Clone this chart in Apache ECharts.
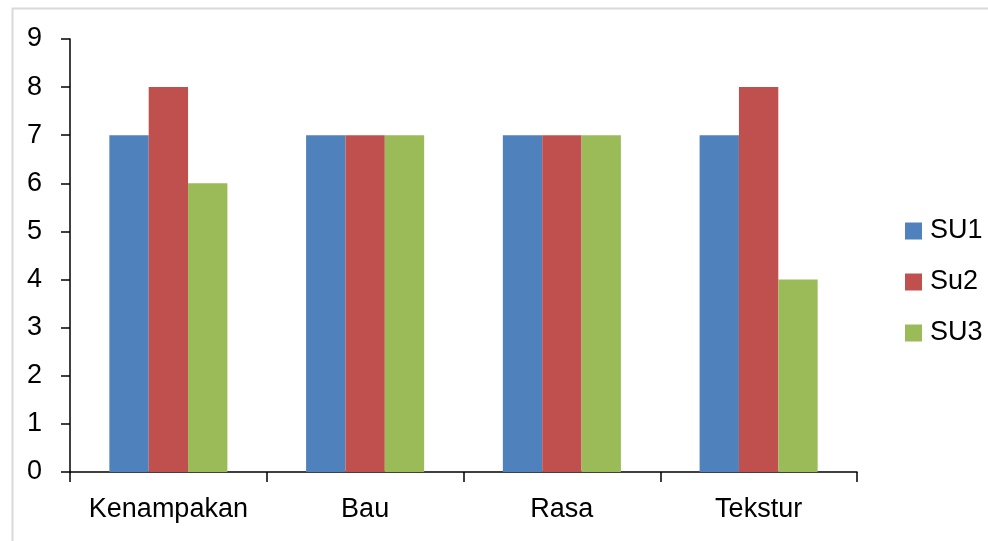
<!DOCTYPE html>
<html>
<head>
<meta charset="utf-8">
<script src="https://cdn.jsdelivr.net/npm/echarts@6/dist/echarts.min.js"></script>
<style>
  html, body { margin: 0; padding: 0; background: #fff; }
  #chart { width: 988px; height: 541px; }
</style>
</head>
<body>
<div id="chart"></div>
<script>
// Sensory scores per attribute
const categories = ['Kenampakan', 'Bau', 'Rasa', 'Tekstur'];
const seriesNames = ['SU1', 'Su2', 'SU3'];
const su1 = [7, 7, 7, 7];
const su2 = [8, 7, 7, 8];
const su3 = [6, 7, 7, 4];
const yTicks = { min: 0, max: 9, interval: 1 };

const colors = ['#4F81BD', '#C0504D', '#9BBB59'];
const FONT = '"Liberation Sans", Arial, sans-serif';

const chart = echarts.init(document.getElementById('chart'), null, { renderer: 'canvas' });

const values = [su1, su2, su3];

chart.setOption({
  animation: false,
  backgroundColor: '#ffffff',
  color: colors,
  graphic: [{
    type: 'rect',
    left: 10, top: 6,
    shape: { width: 990, height: 545 },
    style: { fill: 'none', stroke: '#d9d9d9', lineWidth: 2 },
    silent: true
  }],
  grid: { left: 70, right: 131, top: 39, bottom: 69, containLabel: false },
  legend: {
    orient: 'vertical',
    left: 900,
    top: 211,
    itemWidth: 17,
    itemHeight: 17,
    itemGap: 21,
    icon: 'rect',
    data: seriesNames,
    textStyle: { fontFamily: FONT, fontSize: 27, color: '#000', lineHeight: 30, padding: [0, 0, 0, 3] }
  },
  xAxis: {
    type: 'category',
    data: categories,
    axisLine: { lineStyle: { color: '#000', width: 1.5 } },
    axisTick: { show: true, interval: 0, alignWithLabel: false, length: 10, lineStyle: { color: '#000', width: 1.5 } },
    axisLabel: { interval: 0, fontFamily: FONT, fontSize: 27, color: '#000', margin: 24 }
  },
  yAxis: {
    type: 'value',
    min: yTicks.min, max: yTicks.max, interval: yTicks.interval,
    axisLine: { show: true, lineStyle: { color: '#000', width: 1.5 } },
    axisTick: { show: true, inside: false, length: 9, lineStyle: { color: '#000', width: 1.5 } },
    splitLine: { show: false },
    axisLabel: { fontFamily: FONT, fontSize: 27, color: '#000', margin: 28 }
  },
  series: seriesNames.map((name, i) => ({
    name,
    type: 'bar',
    data: values[i],
    barGap: '0%',
    barCategoryGap: '40%',
    itemStyle: { color: colors[i] }
  }))
});
</script>
</body>
</html>
